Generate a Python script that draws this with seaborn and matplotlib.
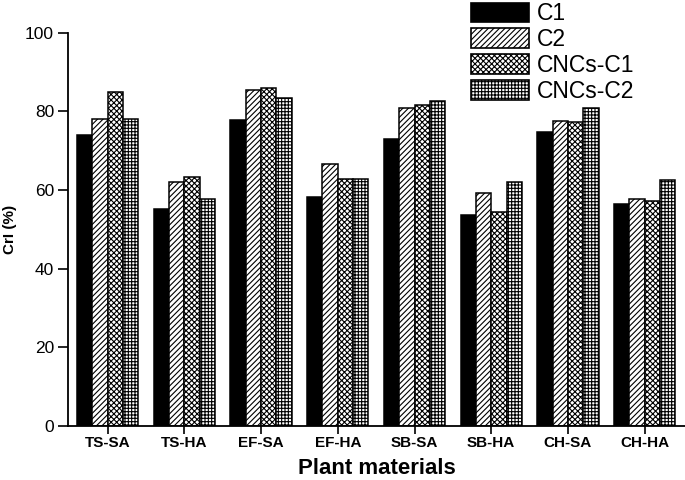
import matplotlib
matplotlib.use("Agg")
import matplotlib.pyplot as plt
import matplotlib.patches as mpatches
import seaborn as sns
import pandas as pd
import numpy as np

categories = ["TS-SA", "TS-HA", "EF-SA", "EF-HA", "SB-SA", "SB-HA", "CH-SA", "CH-HA"]
series_names = ["C1", "C2", "CNCs-C1", "CNCs-C2"]
c1 = [74.0, 55.2, 77.8, 58.3, 73.0, 53.6, 74.8, 56.4]
c2 = [78.0, 62.0, 85.5, 66.7, 80.9, 59.3, 77.5, 57.7]
cncs_c1 = [84.8, 63.4, 85.9, 62.8, 81.6, 54.5, 77.2, 57.2]
cncs_c2 = [78.0, 57.6, 83.3, 62.8, 82.6, 62.1, 80.8, 62.5]
y_ticks = [0, 20, 40, 60, 80, 100]

rows = []
for name, vals in zip(series_names, [c1, c2, cncs_c1, cncs_c2]):
    for cat, v in zip(categories, vals):
        rows.append({"Plant": cat, "Series": name, "CrI": v})
df = pd.DataFrame(rows)

sns.set_style("ticks")
plt.rcParams['font.family'] = ['Liberation Sans', 'DejaVu Sans']
plt.rcParams['hatch.linewidth'] = 0.8
for k in ["text.color", "axes.labelcolor", "xtick.color", "ytick.color", "axes.edgecolor"]:
    plt.rcParams[k] = "black"

fig = plt.figure(figsize=(6.85, 4.8), dpi=100)
ax = fig.add_axes([68/685, 1 - 426/480, (685 - 68)/685, (426 - 32.7)/480])

sns.barplot(data=df, x="Plant", y="CrI", hue="Series", order=categories,
            hue_order=series_names, width=0.8, ax=ax, legend=False,
            palette=["white"] * 4, saturation=1)

styles = {
    "C1": dict(facecolor="black", hatch=None),
    "C2": dict(facecolor="white", hatch="//////"),
    "CNCs-C1": dict(facecolor="white", hatch="xxxxxx"),
    "CNCs-C2": dict(facecolor="white", hatch="+++++"),
}
n = len(categories)
bars = [p for p in ax.patches if isinstance(p, mpatches.Rectangle)]
for i, name in enumerate(series_names):
    for p in bars[i * n:(i + 1) * n]:
        p.set_facecolor(styles[name]["facecolor"])
        p.set_edgecolor("black")
        p.set_linewidth(1.1)
        if styles[name]["hatch"]:
            p.set_hatch(styles[name]["hatch"])

ax.set_xlim(-0.518, 7.527)
ax.set_ylim(0, 100)
ax.set_yticks(y_ticks)
ax.set_yticklabels([str(t) for t in y_ticks], fontsize=12.5)
ax.set_xticks(range(n))
ax.set_xticklabels(categories, fontsize=11, fontweight="bold")
ax.tick_params(axis="y", direction="out", length=7, width=1.2, pad=3)
ax.tick_params(axis="x", direction="out", length=6, width=1.2, pad=1)
sns.despine(ax=ax)
for s in ["left", "bottom"]:
    ax.spines[s].set_linewidth(1.3)
ax.set_xlabel("Plant materials", fontsize=16, fontweight="bold", labelpad=6)
ax.set_ylabel("CrI (%)", fontsize=11, fontweight="bold", labelpad=6)

handles = []
for name in series_names:
    st = styles[name]
    handles.append(mpatches.Patch(facecolor=st["facecolor"], edgecolor="black",
                                  hatch=st["hatch"], linewidth=1.2, label=name))
leg = fig.legend(handles=handles, loc="upper left", bbox_to_anchor=(469/685, 1.0),
                 frameon=False, fontsize=16.5, handlelength=2.5, handleheight=0.95,
                 labelspacing=0.12, handletextpad=0.35, borderaxespad=0, borderpad=0.1)

fig.savefig("out.png", dpi=100)
